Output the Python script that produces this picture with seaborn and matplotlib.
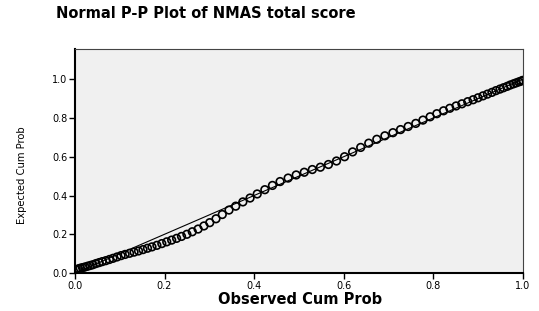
"""Normal P-P plot of NMAS total score (SPSS style)."""

import matplotlib

matplotlib.use("Agg")
import matplotlib.pyplot as plt
import pandas as pd
import seaborn as sns

TITLE = "Normal P-P Plot of NMAS total score"
X_LABEL = "Observed Cum Prob"
Y_LABEL = "Expected Cum Prob"
TICKS = [0.0, 0.2, 0.4, 0.6, 0.8, 1.0]
TICK_LABELS = ["0.0", "0.2", "0.4", "0.6", "0.8", "1.0"]

observed = [
    0.003, 0.008, 0.012, 0.017, 0.022, 0.028, 0.034, 0.040, 0.047, 0.054,
    0.061, 0.069, 0.077, 0.085, 0.094, 0.103, 0.112, 0.122, 0.132, 0.142,
    0.152, 0.162, 0.172, 0.183, 0.194, 0.205, 0.216, 0.227, 0.238, 0.250,
    0.262, 0.275, 0.288, 0.301, 0.315, 0.329, 0.344, 0.359, 0.375, 0.391,
    0.407, 0.424, 0.441, 0.458, 0.476, 0.494, 0.512, 0.530, 0.548, 0.566,
    0.584, 0.602, 0.620, 0.638, 0.656, 0.674, 0.692, 0.710, 0.727, 0.744,
    0.761, 0.777, 0.793, 0.808, 0.823, 0.837, 0.851, 0.864, 0.877, 0.889,
    0.900, 0.911, 0.921, 0.931, 0.940, 0.949, 0.957, 0.965, 0.972, 0.979,
    0.985, 0.991, 0.996, 1.000,
]
expected = [
    0.018, 0.022, 0.025, 0.028, 0.031, 0.035, 0.039, 0.043, 0.049, 0.054,
    0.059, 0.064, 0.070, 0.076, 0.083, 0.090, 0.096, 0.102, 0.108, 0.114,
    0.121, 0.128, 0.135, 0.143, 0.152, 0.161, 0.170, 0.179, 0.189, 0.200,
    0.213, 0.227, 0.243, 0.260, 0.280, 0.302, 0.325, 0.345, 0.367, 0.387,
    0.408, 0.430, 0.452, 0.472, 0.490, 0.506, 0.520, 0.534, 0.546, 0.560,
    0.578, 0.600, 0.625, 0.648, 0.670, 0.690, 0.708, 0.724, 0.740, 0.756,
    0.772, 0.789, 0.806, 0.822, 0.837, 0.850, 0.862, 0.873, 0.884, 0.894,
    0.904, 0.914, 0.923, 0.932, 0.941, 0.949, 0.956, 0.963, 0.970, 0.976,
    0.981, 0.986, 0.990, 0.994,
]
ref_line = [0.0, 1.0]

sns.set_style("white")
plt.rcParams["font.family"] = ["DejaVu Sans"]
plt.rcParams["text.color"] = "black"
plt.rcParams["xtick.color"] = "black"
plt.rcParams["ytick.color"] = "black"

df = pd.DataFrame({"observed": observed, "expected": expected})

fig = plt.figure(figsize=(5.39, 3.11), dpi=100)
ax = fig.add_axes([0.139, 0.122, 0.831, 0.720])
ax.set_facecolor("#f0f0f0")

ax.plot(ref_line, ref_line, color="black", lw=0.8, zorder=2)
sns.scatterplot(data=df, x="observed", y="expected", ax=ax, s=30,
                marker="o", facecolor="none", edgecolor="black",
                linewidth=1.2, zorder=3, legend=False)

ax.set_xlim(0, 1.0)
ax.set_ylim(0, 1.155)
ax.set_xticks(TICKS)
ax.set_xticklabels(TICK_LABELS, fontsize=7)
ax.set_yticks(TICKS)
ax.set_yticklabels(TICK_LABELS, fontsize=7)
ax.tick_params(axis="both", direction="out", length=4.5, width=1,
               color="black", pad=1, bottom=True, left=True)
ax.set_xlabel("")
ax.set_ylabel("")

for side in ["left", "bottom"]:
    ax.spines[side].set_color("black")
    ax.spines[side].set_linewidth(1.5)
for side in ["top", "right"]:
    ax.spines[side].set_color("#444444")
    ax.spines[side].set_linewidth(0.8)

fig.text(0.382, 0.955, TITLE, ha="center", va="center",
         fontsize=10.5, fontweight="bold")
fig.text(0.557, 0.036, X_LABEL, ha="center", va="center",
         fontsize=10.5, fontweight="bold")
fig.text(0.04, 0.437, Y_LABEL, ha="center", va="center", rotation=90,
         fontsize=8, fontstretch="condensed")

fig.savefig("out.png", dpi=100)
